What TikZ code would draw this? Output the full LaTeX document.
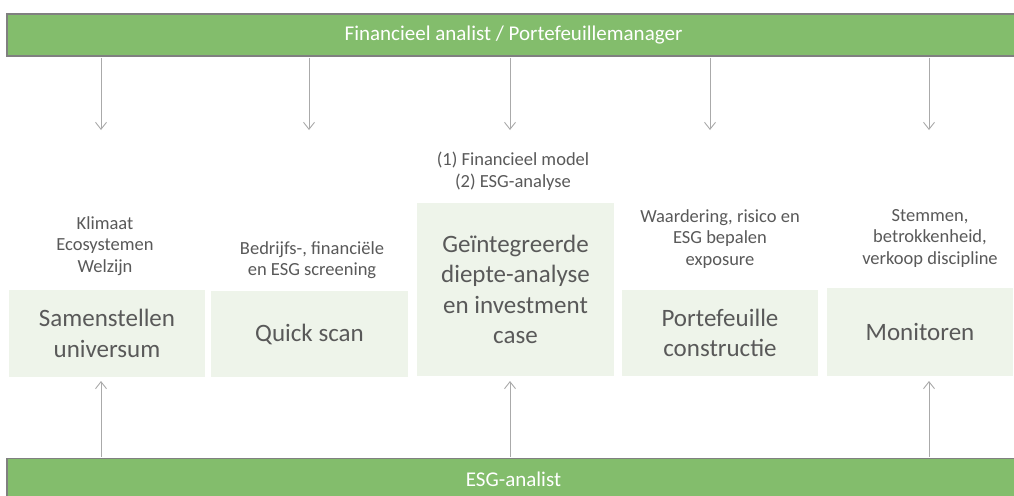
\documentclass[tikz,border=0pt]{standalone}
\usepackage{fontspec}
\setmainfont{Carlito}
\usetikzlibrary{arrows.meta}
\definecolor{bargreen}{HTML}{83BD6C}
\definecolor{barline}{HTML}{808080}
\definecolor{boxfill}{HTML}{EEF4EA}
\definecolor{txt}{HTML}{595959}
\definecolor{arrgray}{HTML}{AAAAAA}
\begin{document}
\begin{tikzpicture}[x=1pt,y=-1pt,
  bar/.style={draw=barline, line width=1.5pt, fill=bargreen, text=white,
    font=\fontsize{21}{24}\selectfont, inner sep=0pt, minimum width=1013pt, minimum height=42pt},
  stage/.style={fill=boxfill, text=txt, font=\fontsize{25}{30.5}\selectfont,
    align=center, inner sep=0pt},
  note/.style={text=txt, font=\fontsize{18.5}{21.5}\selectfont, align=center, inner sep=0pt},
  arr/.style={draw=arrgray, line width=0.9pt, -{Straight Barb[length=7pt,width=11pt]}}]
\useasboundingbox (0,0) rectangle (1014,495);
\fill[white] (0,0) rectangle (1014,495);

% bars
\node[bar] (fa) at (513.5,35) {Financieel analist / Portefeuillemanager};
\node[bar] (esg) at (513.5,479.5) {ESG-analist};

% stage boxes
\node[stage, minimum width=196pt, minimum height=87pt] (b1) at (107,333.5) {Samenstellen\\universum};
\node[stage, minimum width=197pt, minimum height=86pt] (b2) at (309.5,334) {Quick scan};
\node[stage, minimum width=197pt, minimum height=173pt] (b3) at (515.5,289.5) {Geïntegreerde\\diepte-analyse\\en investment\\case};
\node[stage, minimum width=196pt, minimum height=86pt] (b4) at (720,333) {Portefeuille\\constructie};
\node[stage, minimum width=186pt, minimum height=88pt] (b5) at (920,332) {Monitoren};

% notes
\node[note] (l1) at (105,246) {Klimaat\\Ecosystemen\\Welzijn};
\node[note] (l2) at (312,260) {Bedrijfs-, financiële\\en ESG screening};
\node[note] (l3) at (513,171) {(1) Financieel model\\(2) ESG-analyse};
\node[note] (l4) at (720,239) {Waardering, risico en\\ESG bepalen\\exposure};
\node[note] (l5) at (930,238) {Stemmen,\\betrokkenheid,\\verkoop discipline};

% arrow end points
\coordinate (d1) at (101,130);
\coordinate (d2) at (309,130);
\coordinate (d3) at (510,130);
\coordinate (d4) at (710,130);
\coordinate (d5) at (929,130);
\coordinate (u1) at (101,381);
\coordinate (u3) at (510,381);
\coordinate (u5) at (929,381);

\foreach \d in {d1,d2,d3,d4,d5}
  \draw[arr] (fa.south -| \d) ++(0,1) -- (\d);
\foreach \u in {u1,u3,u5}
  \draw[arr] (esg.north -| \u) ++(0,-1) -- (\u);
\end{tikzpicture}
\end{document}
